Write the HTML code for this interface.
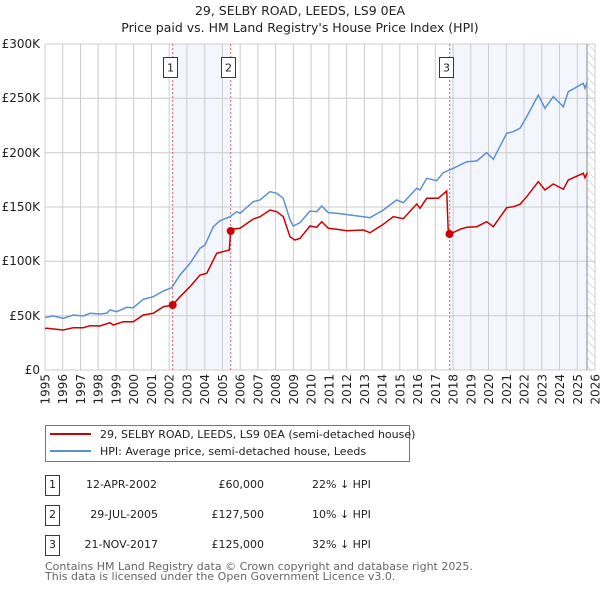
<!DOCTYPE html>
<html><head><meta charset="utf-8"><style>
body{margin:0;background:#fff;font-family:"DejaVu Sans","Liberation Sans",sans-serif;}
</style></head><body>
<svg width="600" height="590" viewBox="0 0 600 590" xmlns="http://www.w3.org/2000/svg" font-family="DejaVu Sans, Liberation Sans, sans-serif">
<defs><pattern id="h" width="6" height="6" patternUnits="userSpaceOnUse" patternTransform="rotate(-45)"><line x1="0" y1="0" x2="0" y2="6" stroke="#bbb" stroke-width="1"/></pattern></defs>
<text x="300" y="15" text-anchor="middle" font-size="12.5" fill="#222">29, SELBY ROAD, LEEDS, LS9 0EA</text>
<text x="300" y="32" text-anchor="middle" font-size="12.5" fill="#222">Price paid vs. HM Land Registry's House Price Index (HPI)</text>
<rect x="172.7" y="44" width="58" height="326" fill="#eef3fc" opacity="0.7"/>
<rect x="449.7" y="44" width="137.3" height="326" fill="#eef3fc" opacity="0.7"/>
<rect x="587" y="44" width="8" height="326" fill="url(#h)"/>
<g stroke="#ccc" stroke-width="1">
<line x1="45" y1="370" x2="595" y2="370"/><line x1="45" y1="315.7" x2="595" y2="315.7"/><line x1="45" y1="261.3" x2="595" y2="261.3"/><line x1="45" y1="207" x2="595" y2="207"/><line x1="45" y1="152.7" x2="595" y2="152.7"/><line x1="45" y1="98.3" x2="595" y2="98.3"/><line x1="45" y1="44" x2="595" y2="44"/>
<line x1="45.0" y1="44" x2="45.0" y2="370"/><line x1="62.7" y1="44" x2="62.7" y2="370"/><line x1="80.5" y1="44" x2="80.5" y2="370"/><line x1="98.2" y1="44" x2="98.2" y2="370"/><line x1="116.0" y1="44" x2="116.0" y2="370"/><line x1="133.7" y1="44" x2="133.7" y2="370"/><line x1="151.5" y1="44" x2="151.5" y2="370"/><line x1="169.2" y1="44" x2="169.2" y2="370"/><line x1="186.9" y1="44" x2="186.9" y2="370"/><line x1="204.7" y1="44" x2="204.7" y2="370"/><line x1="222.4" y1="44" x2="222.4" y2="370"/><line x1="240.2" y1="44" x2="240.2" y2="370"/><line x1="257.9" y1="44" x2="257.9" y2="370"/><line x1="275.6" y1="44" x2="275.6" y2="370"/><line x1="293.4" y1="44" x2="293.4" y2="370"/><line x1="311.1" y1="44" x2="311.1" y2="370"/><line x1="328.9" y1="44" x2="328.9" y2="370"/><line x1="346.6" y1="44" x2="346.6" y2="370"/><line x1="364.4" y1="44" x2="364.4" y2="370"/><line x1="382.1" y1="44" x2="382.1" y2="370"/><line x1="399.8" y1="44" x2="399.8" y2="370"/><line x1="417.6" y1="44" x2="417.6" y2="370"/><line x1="435.3" y1="44" x2="435.3" y2="370"/><line x1="453.1" y1="44" x2="453.1" y2="370"/><line x1="470.8" y1="44" x2="470.8" y2="370"/><line x1="488.5" y1="44" x2="488.5" y2="370"/><line x1="506.3" y1="44" x2="506.3" y2="370"/><line x1="524.0" y1="44" x2="524.0" y2="370"/><line x1="541.8" y1="44" x2="541.8" y2="370"/><line x1="559.5" y1="44" x2="559.5" y2="370"/><line x1="577.3" y1="44" x2="577.3" y2="370"/><line x1="595.0" y1="44" x2="595.0" y2="370"/>
</g>
<line x1="587" y1="44" x2="587" y2="370" stroke="#888" stroke-width="1"/>
<g stroke="#e06060" stroke-width="1" stroke-dasharray="2,2"><line x1="172.7" y1="44" x2="172.7" y2="370"/><line x1="230.7" y1="44" x2="230.7" y2="370"/><line x1="449.7" y1="44" x2="449.7" y2="370"/></g>
<g font-size="12" fill="#222" text-anchor="end">
<text x="40" y="374">£0</text><text x="40" y="320">£50K</text><text x="40" y="265">£100K</text><text x="40" y="211">£150K</text><text x="40" y="157">£200K</text><text x="40" y="102">£250K</text><text x="40" y="48">£300K</text>
</g>
<g font-size="12" fill="#222" text-anchor="end">
<text transform="translate(49.5,374) rotate(-90)">1995</text><text transform="translate(67.2,374) rotate(-90)">1996</text><text transform="translate(85,374) rotate(-90)">1997</text><text transform="translate(102.7,374) rotate(-90)">1998</text><text transform="translate(120.5,374) rotate(-90)">1999</text><text transform="translate(138.2,374) rotate(-90)">2000</text><text transform="translate(156,374) rotate(-90)">2001</text><text transform="translate(173.7,374) rotate(-90)">2002</text><text transform="translate(191.4,374) rotate(-90)">2003</text><text transform="translate(209.2,374) rotate(-90)">2004</text><text transform="translate(226.9,374) rotate(-90)">2005</text><text transform="translate(244.7,374) rotate(-90)">2006</text><text transform="translate(262.4,374) rotate(-90)">2007</text><text transform="translate(280.1,374) rotate(-90)">2008</text><text transform="translate(297.9,374) rotate(-90)">2009</text><text transform="translate(315.6,374) rotate(-90)">2010</text><text transform="translate(333.4,374) rotate(-90)">2011</text><text transform="translate(351.1,374) rotate(-90)">2012</text><text transform="translate(368.9,374) rotate(-90)">2013</text><text transform="translate(386.6,374) rotate(-90)">2014</text><text transform="translate(404.3,374) rotate(-90)">2015</text><text transform="translate(422.1,374) rotate(-90)">2016</text><text transform="translate(439.8,374) rotate(-90)">2017</text><text transform="translate(457.6,374) rotate(-90)">2018</text><text transform="translate(475.3,374) rotate(-90)">2019</text><text transform="translate(493,374) rotate(-90)">2020</text><text transform="translate(510.8,374) rotate(-90)">2021</text><text transform="translate(528.5,374) rotate(-90)">2022</text><text transform="translate(546.3,374) rotate(-90)">2023</text><text transform="translate(564,374) rotate(-90)">2024</text><text transform="translate(581.8,374) rotate(-90)">2025</text><text transform="translate(599.5,374) rotate(-90)">2026</text>
</g>
<polyline fill="none" stroke="#5b8fd6" stroke-width="1.5" points="45,317.5 46.7,317.3 52,316 56,316.5 63.3,318.3 73.3,315 83.3,316 90,313.3 100,314 106.7,313.3 110,310 116.7,311.7 126.7,307.3 133.3,307.7 143.3,299.3 153.3,296.7 163.3,291 171.7,287.7 180,275 190,263.3 200,248.3 205,245 213.3,226.7 220,220.7 230,216.7 236.7,211.7 240,213.3 253.3,201.7 260,200 270,191.7 276.7,193.3 283.3,198.3 290,220 293.3,226 300,222.7 310,211 316.7,211.7 321.7,206 328.3,212.7 336.7,213.3 350,215 363.3,216.7 370,217.7 383.3,210 396.7,200 403.3,202.7 416.7,188.3 420,190 426.7,178.3 436.7,180.7 443.3,172.7 453.3,168.3 466.7,161.7 476.7,161 486.7,152.7 493.3,159.3 506.7,133.3 513.3,131.7 520,128.3 526.7,116.7 538.3,95 545,108.3 553.3,96.7 563.3,106.7 568.3,91.7 583.3,83.3 585,88.3 587.3,81.7"/>
<polyline fill="none" stroke="#cc0000" stroke-width="1.5" points="45,328.5 46.7,328.3 63.3,330 73.3,327.7 83.3,327.7 90,325.7 100,326 110,322.7 113.3,325 123.3,321.7 133.3,321.7 143.3,315 153.3,313.3 163.3,306.7 172.7,305 180,296.7 190,286.7 200,275 206.7,273.3 216.7,253.3 226.7,250.7 229.3,250 230.7,230 233.3,229 240,228.3 253.3,219 260,216.7 270,210 276.7,211.7 283.3,216.7 290,236.7 295,240 300,238.3 310,226 316.7,227.3 321.7,221.7 328.3,228.3 336.7,229.3 346.7,230.7 363.3,230 370,232.7 383.3,224.3 393.3,216.7 403.3,218.7 416.7,204 420,208.3 426.7,198.3 438.3,198.3 446.7,191 448.3,233.3 450,234 460,229.3 466.7,227.3 476.7,226.7 486.7,221.7 493.3,226.7 506.7,207.7 513.3,206.7 520,204.3 526.7,196.7 538.3,181.7 545,190 553.3,184 563.3,189.3 568.3,180 583.3,173.3 585,177.7 587.3,172.7"/>
<g fill="#cc0000"><circle cx="172.7" cy="305" r="4"/><circle cx="230.7" cy="231" r="4"/><circle cx="449.5" cy="234" r="4"/></g>
<g font-size="11" fill="#222" text-anchor="middle">
<rect x="163.5" y="57.5" width="14" height="20" fill="#fff" stroke="#b00"/><text x="170.5" y="71.5">1</text>
<rect x="221.5" y="57.5" width="14" height="20" fill="#fff" stroke="#b00"/><text x="228.5" y="71.5">2</text>
<rect x="439.5" y="57.5" width="14" height="20" fill="#fff" stroke="#b00"/><text x="446.5" y="71.5">3</text>
</g>
<rect x="45.5" y="425.5" width="364" height="36" fill="#fff" stroke="#777"/>
<line x1="50" y1="434" x2="91" y2="434" stroke="#cc0000" stroke-width="2"/>
<line x1="50" y1="451" x2="91" y2="451" stroke="#5b8fd6" stroke-width="2"/>
<g font-size="11" fill="#222">
<text x="100" y="438">29, SELBY ROAD, LEEDS, LS9 0EA (semi-detached house)</text>
<text x="100" y="455">HPI: Average price, semi-detached house, Leeds</text>
</g>
<g font-size="11" fill="#222">
<rect x="45.5" y="475.5" width="14" height="20" fill="#fff" stroke="#b00"/><text x="52.5" y="488" text-anchor="middle">1</text>
<rect x="45.5" y="505.5" width="14" height="20" fill="#fff" stroke="#b00"/><text x="52.5" y="518" text-anchor="middle">2</text>
<rect x="45.5" y="535.5" width="14" height="20" fill="#fff" stroke="#b00"/><text x="52.5" y="548" text-anchor="middle">3</text>
<text x="157" y="488" text-anchor="end">12-APR-2002</text><text x="264" y="488" text-anchor="end">£60,000</text><text x="312" y="488">22% ↓ HPI</text>
<text x="158" y="518" text-anchor="end">29-JUL-2005</text><text x="264" y="518" text-anchor="end">£127,500</text><text x="312" y="518">10% ↓ HPI</text>
<text x="158" y="548" text-anchor="end">21-NOV-2017</text><text x="264" y="548" text-anchor="end">£125,000</text><text x="312" y="548">32% ↓ HPI</text>
</g>
<g font-size="11" fill="#666">
<text x="45" y="570">Contains HM Land Registry data © Crown copyright and database right 2025.</text>
<text x="45" y="580">This data is licensed under the Open Government Licence v3.0.</text>
</g>
</svg>
</body></html>
